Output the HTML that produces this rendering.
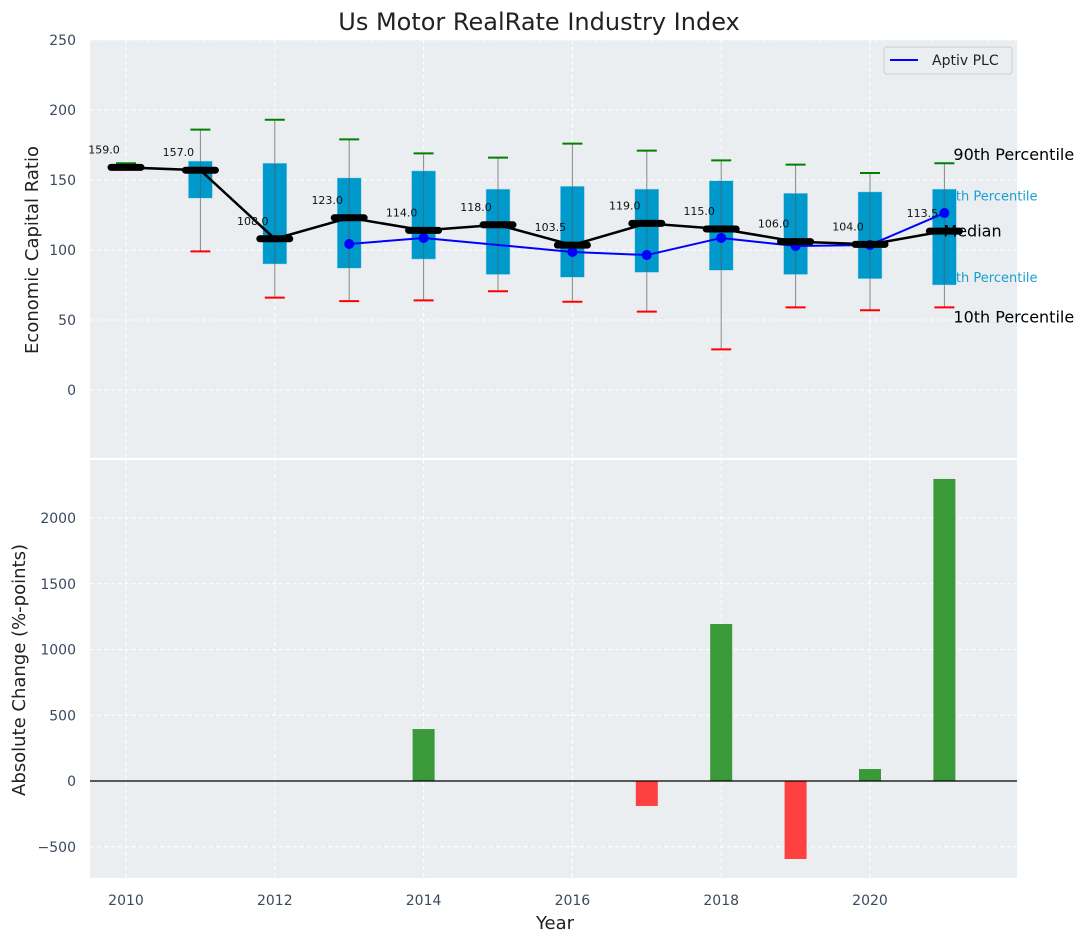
<!DOCTYPE html>
<html><head><meta charset="utf-8"><style>
body{margin:0;background:#fff;}
svg text{font-family:"DejaVu Sans","Liberation Sans",sans-serif;}
</style></head><body>
<svg id="chart" width="1088" height="942" xmlns="http://www.w3.org/2000/svg">
<rect x="0" y="0" width="1088" height="942" fill="#fff"/>
<text x="539" y="30" font-size="24" text-anchor="middle" fill="#222">Us Motor RealRate Industry Index</text>
<rect x="90" y="40" width="927" height="418" fill="#eaeef0"/>
<rect x="90" y="460" width="927" height="418" fill="#eaeef0"/>
<g id="grid"></g>
<g id="top"></g>
<g id="bottom"></g>
<g id="axes"></g>
<text transform="translate(38,250) rotate(-90)" font-size="18" text-anchor="middle" fill="#222">Economic Capital Ratio</text>
<text transform="translate(25,670) rotate(-90)" font-size="18" text-anchor="middle" fill="#222">Absolute Change (%-points)</text>
<text x="555" y="929" font-size="18" text-anchor="middle" fill="#222">Year</text>
<g>
<rect x="884" y="47" width="128" height="27" rx="3" fill="#eaeef0" stroke="#ccc"/>
<line x1="890" y1="60" x2="918" y2="60" stroke="#0000ff" stroke-width="2"/>
<text x="932" y="65" font-size="14" fill="#222">Aptiv PLC</text>
</g>
</svg>
<script>
const years=[2010,2011,2012,2013,2014,2015,2016,2017,2018,2019,2020,2021];
const medians=[159,157,108,123,114,118,103.5,119,115,106,104,113.5];
const p90=[162,186,193,179,169,166,176,171,164,161,155,162];
const p10=[159,99,66,63.5,64,70.5,63,56,29,59,57,59];
const q75=[159,163.5,162,151.5,156.5,143.5,145.5,143.5,149.5,140.5,141.5,143.5];
const q25=[159,137,90,87,93.5,82.5,80.5,84,85.5,82.5,79.5,75];
const aptiv=[null,null,null,104.3,108.6,null,98.6,96.4,108.6,102.9,103.6,126.4];
const changes=[0,0,0,0,395,0,0,-190,1194,-593,91,2297];
const topTicks=[0,50,100,150,200,250];
const botTicks=[-500,0,500,1000,1500,2000];
const xTicks=[2010,2012,2014,2016,2018,2020];

const NS="http://www.w3.org/2000/svg";
const X=v=>126+(v-2010)*74.4;
const YT=v=>390-v*1.4;
const YB=v=>781-v*0.1315;
function mk(parent,tag,attrs){const e=document.createElementNS(NS,tag);for(const k in attrs)e.setAttribute(k,attrs[k]);document.getElementById(parent).appendChild(e);return e;}

xTicks.forEach(t=>{
  let g=mk('grid','line',{x1:X(t),x2:X(t),y1:40,y2:458,stroke:'#fff','stroke-dasharray':'4,3'});
  
  
  g=mk('grid','line',{x1:X(t),x2:X(t),y1:460,y2:878,stroke:'#fff','stroke-dasharray':'4,3'});
  
  
  const tx=mk('axes','text',{x:X(t),y:905,'font-size':14,'text-anchor':'middle',fill:'#3b4a5e'});
  tx.textContent=t;
  
  
});
topTicks.forEach(t=>{
  const g=mk('grid','line',{x1:90,x2:1017,y1:YT(t),y2:YT(t),stroke:'#fff','stroke-dasharray':'4,3'});
  
  
  const tx=mk('axes','text',{x:76,y:YT(t)+5,'font-size':14,'text-anchor':'end',fill:'#3b4a5e'});
  tx.textContent=t;
  
  
});
botTicks.forEach(t=>{
  const g=mk('grid','line',{x1:90,x2:1017,y1:YB(t),y2:YB(t),stroke:'#fff','stroke-dasharray':'4,3'});
  
  
  const tx=mk('axes','text',{x:76,y:YB(t)+5,'font-size':14,'text-anchor':'end',fill:'#3b4a5e'});
  tx.textContent=(t<0?'\u2212'+(-t):t);
  
  
});

const lx=X(2021);
[['75th Percentile',q75[11]-4.5,'label-75th'],['25th Percentile',q25[11]+5.7,'label-25th']].forEach(a=>{
  const t=mk('top','text',{x:lx-5,y:YT(a[1])+5,'font-size':13,fill:'#1a9fd0'});t.textContent=a[0];
  
  
});

years.forEach((y,i)=>{
  const x=X(y);
  let l=mk('top','line',{x1:x,x2:x,y1:YT(p90[i]),y2:YT(p10[i]),stroke:'#888','stroke-width':1});
  
  
  if(q75[i]!==q25[i]){
    const r=mk('top','rect',{x:x-12,y:YT(q75[i]),width:24,height:YT(q25[i])-YT(q75[i]),fill:'#0099cc',stroke:'#a0d8ea','stroke-width':0.5});
    
    
    l=mk('top','line',{x1:x,x2:x,y1:YT(q75[i]),y2:YT(q25[i]),stroke:'#555','stroke-width':1,opacity:0.6});
    
    
  }
  l=mk('top','line',{x1:x-10,x2:x+10,y1:YT(p90[i]),y2:YT(p90[i]),stroke:'#008000','stroke-width':2});
  
  
  if(i>0){
  l=mk('top','line',{x1:x-10,x2:x+10,y1:YT(p10[i]),y2:YT(p10[i]),stroke:'#ff0000','stroke-width':2});
  
  }
});

let pts=[];aptiv.forEach((v,i)=>{if(v!==null)pts.push(X(years[i])+','+YT(v));});
let pl=mk('top','polyline',{points:pts.join(' '),fill:'none',stroke:'#0000ff','stroke-width':2});


aptiv.forEach((v,i)=>{if(v===null)return;
  const c=mk('top','circle',{cx:X(years[i]),cy:YT(v),r:5,fill:'#0000ff'});
  
  
});

pl=mk('top','polyline',{points:years.map((y,i)=>X(y)+','+YT(medians[i])).join(' '),fill:'none',stroke:'#000','stroke-width':2.5});


years.forEach((y,i)=>{
  const x=X(y),yy=YT(medians[i]);
  const l=mk('top','line',{x1:x-15,x2:x+15,y1:yy,y2:yy,stroke:'#000','stroke-width':7,'stroke-linecap':'round'});
  
  
  const t=mk('top','text',{x:x-22,y:yy-14,'font-size':11,'text-anchor':'middle',fill:'#111'});
  t.textContent=medians[i].toFixed(1);
  
  
});

[['90th Percentile',p90[11]+6.6,9,'label-90th'],['Median',medians[11]+0.5,-1,'label-median'],['10th Percentile',p10[11]-6.4,9,'label-10th']].forEach(a=>{
  const t=mk('top','text',{x:lx+a[2],y:YT(a[1])+6,'font-size':16,fill:'#000'});t.textContent=a[0];
  
  
});

changes.forEach((v,i)=>{
  if(v===0)return;
  const y0=YB(0),y1=YB(v);
  const r=mk('bottom','rect',{x:X(years[i])-11,y:Math.min(y0,y1),width:22,height:Math.abs(y1-y0),fill:v>0?'#3a9a3a':'#ff4040'});
  
  
});
const zl=mk('bottom','line',{x1:90,x2:1017,y1:YB(0),y2:YB(0),stroke:'#000','stroke-width':1.2});


</script>
</body></html>
